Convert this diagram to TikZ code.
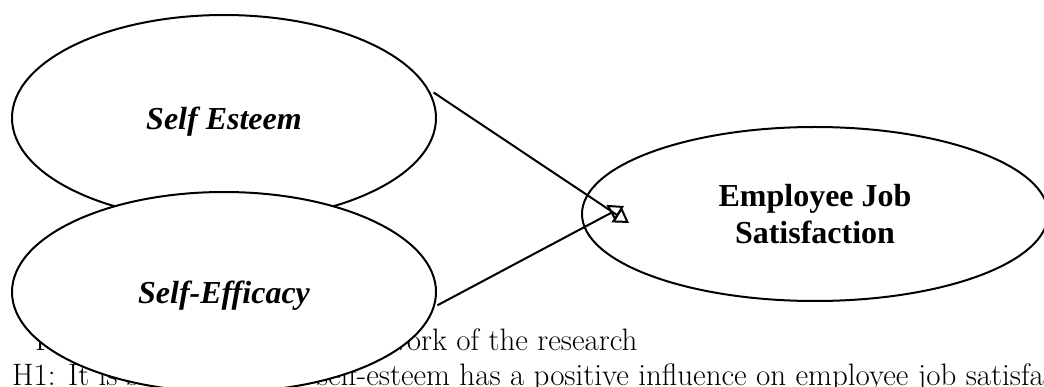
\documentclass[tikz,border=0pt]{standalone}
\usepackage{fontspec}
\newfontfamily\tnr{Liberation Serif}
\usetikzlibrary{arrows.meta,shapes.geometric,positioning}

\begin{document}
\begin{tikzpicture}[x=1pt,y=-1pt,
   var/.style={ellipse, draw, fill=white, line width=2pt, inner sep=0pt},
   vname/.style={font=\tnr\bfseries\fontsize{32}{37}\selectfont},
   txt/.style={inner sep=0pt, anchor=base west, font=\fontsize{31}{35}\selectfont},
   link/.style={line width=2pt, -{Triangle[open,length=15pt,width=18pt]}}]
   \useasboundingbox (0,0) rectangle (1044,387);
   \node (cap) [txt] at (35,350) {Figure 1. Conceptual Framework of the research};
   \node (h1) [txt] at (12,385) {H1: It is suspected that self-esteem has a positive influence on employee job satisfaction};
   \node (se) [var, vname, text height=23pt, text depth=0pt, minimum width=424pt, minimum height=206pt] at (224,118) {\itshape Self Esteem};
   \node (ef) [var, vname, text height=23pt, text depth=0pt, minimum width=424pt, minimum height=200pt] at (224,292) {\itshape Self-Efficacy};
   \node (js) [var, vname, minimum width=466pt, minimum height=174pt, align=center] at (815,214)
      {Employee Job\\Satisfaction};
   \coordinate (t1) at (629,223);
   \coordinate (t2) at (624,206);
   \draw [link, shorten <=6pt] (se.8) -- (t1);
   \draw [link, shorten <=3pt] (ef.-4) -- (t2);
\end{tikzpicture}
\end{document}
